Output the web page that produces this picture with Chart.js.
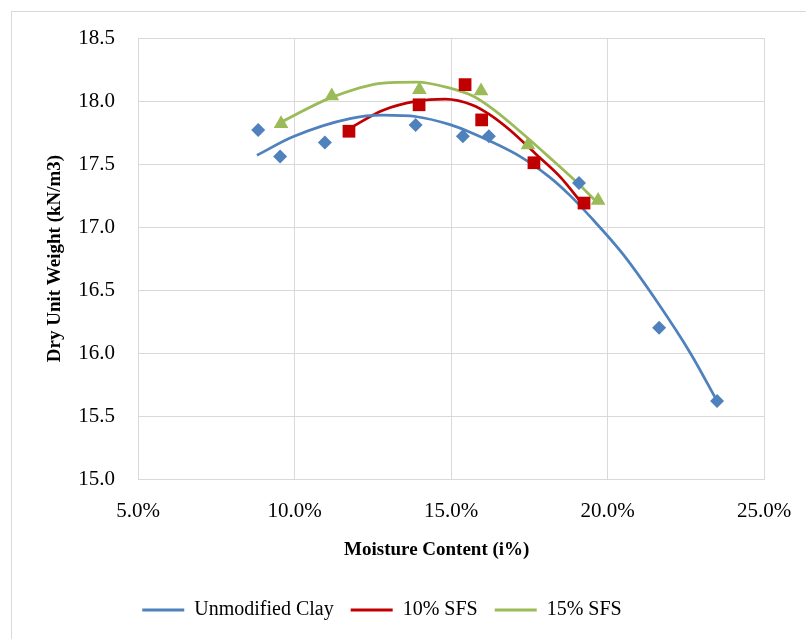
<!DOCTYPE html>
<html>
<head>
<meta charset="utf-8">
<script src="https://cdn.jsdelivr.net/npm/chart.js@4/dist/chart.umd.min.js"></script>
<style>
  html, body { margin: 0; padding: 0; background: #fff; overflow: hidden; }
  #frame { position: absolute; left: 11px; top: 11px; width: 900px; height: 900px; border: 1px solid #d9d9d9; }
  #chart { position: absolute; left: 0; top: 0; }
</style>
</head>
<body>
<div id="frame"></div>
<canvas id="chart" width="806" height="639"></canvas>
<script>
// measured points (moisture %, dry unit weight kN/m3)
let clayX = [8.84, 9.54, 10.97, 13.87, 15.38, 16.21, 19.09, 21.65, 23.50];
let clayY = [17.77, 17.56, 17.67, 17.81, 17.72, 17.72, 17.35, 16.20, 15.62];
let sfs10X = [11.74, 13.98, 15.45, 15.98, 17.65, 19.25];
let sfs10Y = [17.76, 17.97, 18.13, 17.85, 17.51, 17.19];
let sfs15X = [9.57, 11.19, 13.99, 15.96, 17.46, 19.70];
let sfs15Y = [17.82, 18.04, 18.09, 18.08, 17.65, 17.21];

// trend lines
let clayTrendX = [8.80, 9.95, 11.77, 12.83, 13.91, 14.97, 15.61, 17.20, 18.16, 18.80, 19.44, 20.50, 21.58, 22.64, 23.50];
let clayTrendY = [17.569, 17.716, 17.860, 17.887, 17.875, 17.812, 17.752, 17.561, 17.394, 17.251, 17.084, 16.782, 16.408, 16.002, 15.620];
let sfs10TrendX = [11.77, 12.83, 13.91, 14.81, 15.70, 16.25, 16.88, 17.75, 18.48, 19.19];
let sfs10TrendY = [17.784, 17.927, 17.999, 18.015, 17.967, 17.890, 17.770, 17.570, 17.400, 17.187];
let sfs15TrendX = [9.57, 11.13, 12.83, 13.91, 14.97, 15.70, 16.34, 17.20, 18.25, 19.12, 19.60];
let sfs15TrendY = [17.832, 18.023, 18.142, 18.150, 18.102, 18.039, 17.935, 17.760, 17.529, 17.331, 17.211];

let seriesNames = ["Unmodified Clay", "10% SFS", "15% SFS"];
let colors = ["#4f81bd", "#c00000", "#9bbb59"];

function pts(xs, ys) {
    return xs.map((x, i) => ({ x: x, y: ys[i] }));
}

let font = "'Liberation Serif', 'Times New Roman', serif";
Chart.defaults.font.family = font;
Chart.defaults.color = "#000";

function trend(i, xs, ys) {
    return {
        label: seriesNames[i],
        data: pts(xs, ys),
        showLine: true,
        borderColor: colors[i],
        backgroundColor: colors[i],
        borderWidth: 2.75,
        pointRadius: 0,
        cubicInterpolationMode: "monotone",
        order: 1,
    };
}

let ctx = document.getElementById("chart").getContext("2d");

let chart = new Chart(ctx, {
    type: "scatter",
    data: {
        datasets: [
            {
                label: "clay points",
                data: pts(clayX, clayY),
                pointStyle: "rectRot",
                pointRadius: 7,
                backgroundColor: colors[0],
                borderWidth: 0,
                order: 0,
            },
            {
                label: "10 points",
                data: pts(sfs10X, sfs10Y),
                pointStyle: "rect",
                pointRadius: 9,
                backgroundColor: colors[1],
                borderWidth: 0,
                order: 0,
            },
            {
                label: "15 points",
                data: pts(sfs15X, sfs15Y),
                pointStyle: "triangle",
                pointRadius: 8.5,
                backgroundColor: colors[2],
                borderWidth: 0,
                order: 0,
            },
            trend(0, clayTrendX, clayTrendY),
            trend(1, sfs10TrendX, sfs10TrendY),
            trend(2, sfs15TrendX, sfs15TrendY),
        ]
    },
    options: {
        responsive: false,
        animation: false,
        devicePixelRatio: 1,
        layout: {
            padding: { left: 0, right: 42, top: 38, bottom: 9 }
        },
        plugins: {
            tooltip: { enabled: false },
            legend: {
                position: "bottom",
                labels: {
                    boxWidth: 42,
                    boxHeight: 3,
                    padding: 17,
                    font: { size: 20 },
                    color: "#000",
                    generateLabels: function (c) {
                        return c.data.datasets
                            .map((ds, i) => ({
                                text: ds.label,
                                fillStyle: ds.borderColor,
                                strokeStyle: ds.borderColor,
                                lineWidth: 0,
                                hidden: false,
                                datasetIndex: i,
                            }))
                            .filter(l => c.data.datasets[l.datasetIndex].showLine);
                    }
                }
            }
        },
        scales: {
            x: {
                type: "linear",
                min: 5,
                max: 25,
                afterFit: s => { s.height = 104; s.paddingRight = 0; },
                grid: { color: "#d9d9d9", drawTicks: false },
                border: { color: "#d9d9d9" },
                ticks: {
                    stepSize: 5,
                    padding: 20,
                    font: { size: 21 },
                    color: "#000",
                    callback: v => v.toFixed(1) + "%",
                },
                title: {
                    display: true,
                    text: "Moisture Content (i%)\u00a0\u00a0\u00a0\u00a0\u00a0\u00a0",
                    font: { size: 19, weight: "bold" },
                    color: "#000",
                    padding: { top: 14, bottom: 22 },
                }
            },
            y: {
                min: 15,
                max: 18.5,
                afterFit: s => { s.width = 138; },
                grid: { color: "#d9d9d9", drawTicks: false },
                border: { color: "#d9d9d9" },
                ticks: {
                    stepSize: 0.5,
                    padding: 23,
                    font: { size: 21 },
                    color: "#000",
                    callback: v => v.toFixed(1),
                },
                title: {
                    display: true,
                    text: "Dry Unit Weight (kN/m3)",
                    font: { size: 19, weight: "bold" },
                    color: "#000",
                    padding: { top: 44, bottom: 0 },
                }
            }
        }
    }
});
</script>
</body>
</html>
